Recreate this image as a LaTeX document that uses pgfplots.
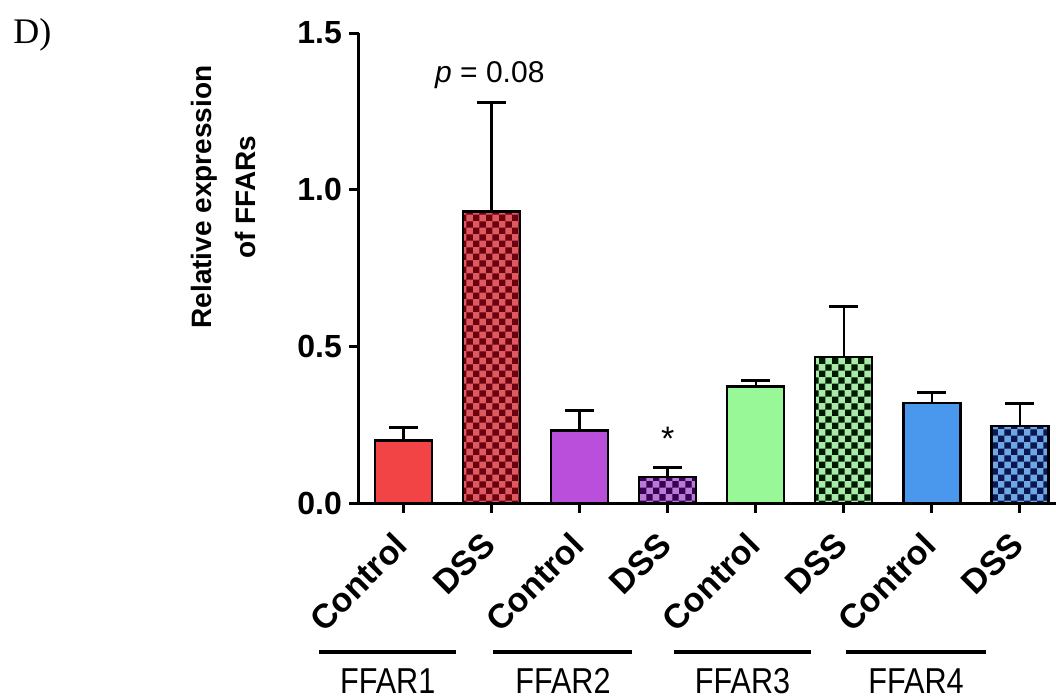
\documentclass[border=0pt]{standalone}
\usepackage{pgfplots}
\pgfplotsset{compat=1.18}
\usetikzlibrary{patterns}
\usepackage{fontspec}
\setmainfont{Liberation Sans}
\newfontfamily\serifD{Liberation Serif}
\definecolor{cRed}{HTML}{F24444}
\definecolor{cRedL}{HTML}{DE5A5E}
\definecolor{cRedD}{HTML}{6A0010}
\definecolor{cPur}{HTML}{B94FDA}
\definecolor{cPurL}{HTML}{B77AD8}
\definecolor{cPurD}{HTML}{3A0050}
\definecolor{cGrn}{HTML}{98F898}
\definecolor{cGrnL}{HTML}{A8EAA8}
\definecolor{cGrnD}{HTML}{001A00}
\definecolor{cBlu}{HTML}{4A98EE}
\definecolor{cBluL}{HTML}{6FA6E6}
\definecolor{cBluD}{HTML}{0A1850}
\pgfdeclarepatternformonly{checker}{\pgfpointorigin}{\pgfqpoint{6.4pt}{6.4pt}}{\pgfqpoint{6.4pt}{6.4pt}}{%
  \pgfpathrectangle{\pgfpointorigin}{\pgfqpoint{3.2pt}{3.2pt}}%
  \pgfpathrectangle{\pgfqpoint{3.2pt}{3.2pt}}{\pgfqpoint{3.2pt}{3.2pt}}%
  \pgfusepath{fill}}
\begin{document}
\begin{tikzpicture}
\begin{axis}[
  scale only axis,
  width=348.5pt, height=235pt,
  xmin=-0.506, xmax=7.41,
  ymin=0, ymax=1.5,
  axis lines=left,
  axis line style={-, line width=1.5pt},
  clip=false,
  xtick={0,1,2,3,4,5,6,7},
  xticklabels={Control,DSS,Control,DSS,Control,DSS,Control,DSS},
  xticklabel style={rotate=45, anchor=north east, font=\fontsize{17}{19}\selectfont\bfseries, inner sep=1pt, yshift=-1pt, xshift=-9pt},
  ytick={0,0.5,1,1.5},
  yticklabel style={/pgf/number format/fixed, /pgf/number format/fixed zerofill, /pgf/number format/precision=1, font=\fontsize{16}{18}\selectfont\bfseries},
  /pgf/number format/assume math mode=true,
  tick style={black, line width=1.5pt},
  tick align=outside,
  major tick length=5pt,
  ylabel={Relative expression\\of FFARs},
  ylabel style={at={(axis description cs:-0.195,0.651)}, anchor=center, align=center, font=\fontsize{14}{22}\selectfont\bfseries},
  ybar, bar width=28.5pt, bar shift=0pt,
  error bars/y dir=plus,
  error bars/y explicit,
  error bars/error bar style={line width=1.2pt, black},
  error bars/error mark options={rotate=90, mark size=7.2pt, line width=1.5pt, black},
]
\addplot[draw=black, line width=1.2pt, fill=cRed] coordinates {(0,0.199) +- (0,0.041)};
\addplot[draw=black, line width=1.2pt, preaction={fill=cRedL}, pattern=checker, pattern color=cRedD] coordinates {(1,0.930) +- (0,0.347)};
\addplot[draw=black, line width=1.2pt, fill=cPur] coordinates {(2,0.231) +- (0,0.064)};
\addplot[draw=black, line width=1.2pt, preaction={fill=cPurL}, pattern=checker, pattern color=cPurD] coordinates {(3,0.083) +- (0,0.029)};
\addplot[draw=black, line width=1.2pt, fill=cGrn] coordinates {(4,0.372) +- (0,0.018)};
\addplot[draw=black, line width=1.2pt, preaction={fill=cGrnL}, pattern=checker, pattern color=cGrnD] coordinates {(5,0.466) +- (0,0.160)};
\addplot[draw=black, line width=1.2pt, fill=cBlu] coordinates {(6,0.319) +- (0,0.035)};
\addplot[draw=black, line width=1.2pt, preaction={fill=cBluL}, pattern=checker, pattern color=cBluD] coordinates {(7,0.246) +- (0,0.070)};
% annotations
\node[font=\fontsize{15}{17}\selectfont, anchor=base] at (axis cs:0.98,1.343) {\textit{p} = 0.08};
\node[font=\fontsize{17}{19}\selectfont] at (axis cs:3,0.205) {*};
\draw[line width=2pt] ([yshift=-74.5pt]axis cs:-0.96,0) -- ([yshift=-74.5pt]axis cs:0.6,0);
\draw[line width=2pt] ([yshift=-74.5pt]axis cs:1.02,0) -- ([yshift=-74.5pt]axis cs:2.6,0);
\draw[line width=2pt] ([yshift=-74.5pt]axis cs:3.07,0) -- ([yshift=-74.5pt]axis cs:4.63,0);
\draw[line width=2pt] ([yshift=-74.5pt]axis cs:5.03,0) -- ([yshift=-74.5pt]axis cs:6.61,0);
\node[font=\fontsize{18}{20}\selectfont, anchor=base, inner sep=0pt] at ([yshift=-95pt]axis cs:-0.18,0) {\scalebox{0.85}[1]{FFAR1}};
\node[font=\fontsize{18}{20}\selectfont, anchor=base, inner sep=0pt] at ([yshift=-95pt]axis cs:1.81,0) {\scalebox{0.85}[1]{FFAR2}};
\node[font=\fontsize{18}{20}\selectfont, anchor=base, inner sep=0pt] at ([yshift=-95pt]axis cs:3.85,0) {\scalebox{0.85}[1]{FFAR3}};
\node[font=\fontsize{18}{20}\selectfont, anchor=base, inner sep=0pt] at ([yshift=-95pt]axis cs:5.82,0) {\scalebox{0.85}[1]{FFAR4}};
\end{axis}
\node[font=\serifD\fontsize{18}{20}\selectfont, anchor=base west, inner sep=0pt] at ([xshift=-173pt,yshift=-5pt]current axis.north west) {D)};
\pgfresetboundingbox
\path ([xshift=-179.5pt,yshift=-97.5pt]current axis.south west) rectangle ([yshift=16.5pt]current axis.north east);
\end{tikzpicture}
\end{document}
